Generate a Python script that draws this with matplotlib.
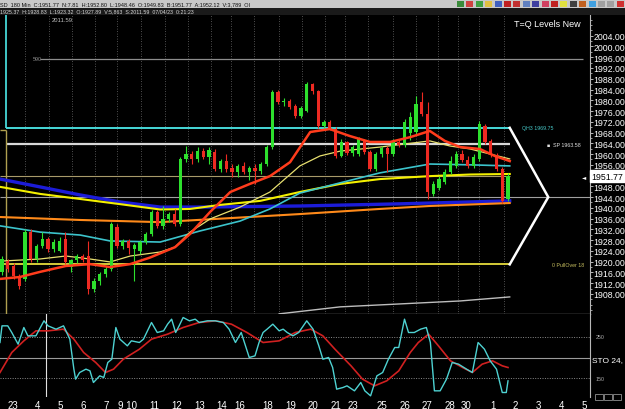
import matplotlib
matplotlib.use("Agg")
import matplotlib.pyplot as plt
from matplotlib.patches import Rectangle
import numpy as np

plt.rcParams['font.family'] = ['Liberation Sans', 'DejaVu Sans']

# ---------------- data ----------------
opens = [1916.2, 1920.2, 1918.4, 1914.7, 1913.6, 1931.0, 1921.0, 1925.8, 1928.4, 1924.7,
         1924.0, 1928.4, 1918.0, 1920.5, 1922.1, 1922.0, 1909.8, 1912.8, 1915.4, 1917.3,
         1933.0, 1926.0, 1927.7, 1924.7, 1924.0, 1927.3, 1930.3, 1938.5, 1933.3, 1935.9,
         1937.7, 1934.0, 1958.2, 1960.0, 1958.2, 1961.1, 1958.9, 1960.8, 1954.4, 1957.4,
         1955.0, 1953.3, 1955.6, 1953.3, 1954.8, 1953.7, 1956.3, 1962.6, 1983.1, 1979.3,
         1979.8, 1977.9, 1974.1, 1976.0, 1986.0, 1983.5, 1970.4, 1971.9, 1969.3, 1959.3,
         1964.5, 1960.4, 1960.0, 1965.0, 1960.8, 1954.4, 1960.0, 1962.2, 1960.0, 1964.5,
         1963.4, 1968.0, 1968.2, 1979.3, 1975.0, 1945.2, 1947.4, 1949.6, 1953.3, 1955.6,
         1960.0, 1957.8, 1955.6, 1958.2, 1970.4, 1964.9, 1959.6, 1954.4, 1943.3]
highs = [1922.0, 1921.0, 1919.5, 1915.5, 1932.0, 1932.0, 1926.6, 1931.0, 1929.0, 1928.4,
         1929.0, 1931.0, 1921.0, 1923.0, 1923.0, 1927.7, 1914.0, 1916.2, 1918.4, 1934.7,
         1934.0, 1928.4, 1928.4, 1927.0, 1928.0, 1931.0, 1939.2, 1939.2, 1940.7, 1938.5,
         1939.6, 1959.0, 1963.0, 1961.1, 1962.6, 1962.2, 1962.6, 1961.9, 1958.2, 1960.0,
         1956.3, 1956.3, 1957.0, 1955.6, 1956.3, 1957.0, 1963.4, 1984.0, 1983.8, 1981.0,
         1980.5, 1978.6, 1978.0, 1986.8, 1986.4, 1984.0, 1972.7, 1972.7, 1970.0, 1965.6,
         1965.0, 1963.4, 1966.3, 1965.6, 1961.5, 1960.8, 1963.0, 1963.0, 1965.6, 1965.6,
         1973.0, 1975.6, 1981.6, 1983.1, 1979.3, 1950.0, 1952.0, 1954.4, 1959.3, 1961.1,
         1961.5, 1959.3, 1960.0, 1972.3, 1971.2, 1965.6, 1960.4, 1955.2, 1952.8]
lows = [1915.0, 1916.0, 1913.6, 1909.8, 1912.8, 1920.0, 1920.0, 1925.0, 1923.6, 1923.6,
        1923.6, 1919.1, 1916.2, 1919.5, 1919.9, 1908.0, 1908.7, 1911.5, 1914.3, 1916.5,
        1925.0, 1924.7, 1922.9, 1912.8, 1923.0, 1926.6, 1929.5, 1932.5, 1932.1, 1934.7,
        1933.3, 1933.3, 1957.0, 1956.3, 1957.0, 1958.0, 1956.3, 1953.7, 1953.3, 1953.3,
        1951.5, 1951.5, 1952.6, 1950.4, 1948.9, 1952.6, 1955.6, 1962.0, 1978.6, 1977.9,
        1976.7, 1973.4, 1973.4, 1975.6, 1982.3, 1969.7, 1969.7, 1969.0, 1958.5, 1958.9,
        1959.6, 1959.3, 1959.3, 1960.0, 1953.7, 1953.7, 1958.9, 1953.3, 1959.3, 1962.6,
        1962.6, 1965.2, 1967.5, 1974.1, 1943.3, 1944.4, 1946.7, 1948.9, 1952.6, 1954.8,
        1957.0, 1954.8, 1955.0, 1957.4, 1963.7, 1958.9, 1953.7, 1941.8, 1942.6]
closes = [1921.0, 1917.3, 1914.7, 1911.0, 1931.0, 1921.0, 1925.8, 1928.4, 1924.7, 1927.3,
          1927.7, 1919.9, 1920.5, 1922.1, 1920.5, 1909.8, 1912.8, 1915.4, 1917.3, 1934.0,
          1926.0, 1927.7, 1925.0, 1926.2, 1927.3, 1930.3, 1938.5, 1933.3, 1935.9, 1937.7,
          1934.0, 1958.2, 1960.0, 1958.2, 1961.1, 1958.9, 1961.5, 1954.4, 1957.4, 1954.4,
          1953.3, 1955.6, 1953.3, 1954.8, 1953.7, 1956.3, 1962.6, 1983.1, 1979.3, 1979.8,
          1977.5, 1974.1, 1977.1, 1986.0, 1983.5, 1970.4, 1971.9, 1969.7, 1959.3, 1964.5,
          1960.4, 1962.6, 1965.6, 1960.8, 1954.4, 1960.0, 1962.2, 1960.0, 1964.5, 1963.4,
          1971.9, 1973.8, 1978.6, 1974.9, 1945.9, 1948.9, 1950.7, 1953.3, 1957.4, 1960.0,
          1957.8, 1955.6, 1958.9, 1971.2, 1964.5, 1959.6, 1954.4, 1942.6, 1951.77]

# moving averages: (bar index, value)
ma_blue_x = [-0.3, 6.6, 13.6, 20.5, 27.5, 34.4, 51.8, 69.2, 88.3]
ma_blue_y = [1950.7, 1947.8, 1944.8, 1942.2, 1940.3, 1940.3, 1940.7, 1941.5, 1942.6]
ma_yellow_x = [-0.3, 6.6, 13.6, 20.5, 27.5, 32.7, 37.9, 44.9, 51.8, 58.8, 65.7, 74.4, 81.4, 88.3]
ma_yellow_y = [1947.8, 1945.2, 1943.3, 1941.4, 1939.4, 1939.6, 1941.1, 1942.6, 1945.9, 1948.9,
               1950.7, 1951.8, 1952.4, 1952.6]
ma_orange_x = [-0.3, 13.6, 27.5, 39.7, 51.8, 65.7, 74.4, 88.3]
ma_orange_y = [1936.6, 1935.5, 1934.7, 1936.2, 1937.7, 1939.6, 1940.7, 1941.8]
ma_cyan_x = [-0.3, 6.6, 13.6, 18.8, 27.5, 34.4, 41.4, 46.6, 51.8, 58.8, 65.7, 74.4, 81.4, 88.3]
ma_cyan_y = [1933.3, 1931.0, 1929.9, 1927.7, 1927.3, 1931.4, 1935.1, 1939.6, 1945.5, 1949.3,
             1953.0, 1956.3, 1956.0, 1955.6]
ma_pale_x = [-0.3, 6.6, 11.1, 15.3, 18.8, 22.3, 27.5, 30.1, 32.7, 36.2, 41.4, 46.6, 51.8,
             55.3, 58.8, 65.7, 74.4, 77.9, 81.4, 84.9, 88.3]
ma_pale_y = [1920.2, 1921.0, 1922.1, 1921.0, 1919.9, 1922.1, 1923.6, 1925.4, 1931.0, 1935.9,
             1940.3, 1945.9, 1955.6, 1959.3, 1961.1, 1962.6, 1964.9, 1963.0, 1961.9, 1960.0,
             1958.2]
ma_red_x = [-0.3, 3.1, 6.6, 11.1, 15.3, 18.8, 22.3, 25.7, 30.1, 32.7, 36.2, 39.7, 43.1, 46.6,
            50.1, 53.6, 57.0, 60.5, 64.0, 67.5, 71.0, 74.4, 77.0, 79.7, 83.1, 85.7, 88.3]
ma_red_y = [1913.6, 1914.3, 1916.2, 1918.4, 1919.1, 1918.0, 1919.1, 1921.5, 1925.4, 1930.3,
            1938.5, 1945.9, 1948.9, 1951.8, 1957.0, 1968.2, 1969.3, 1966.7, 1964.5, 1964.5,
            1966.3, 1968.6, 1964.9, 1962.6, 1961.9, 1959.3, 1957.4]
ma_long_x = [48.2, 58.8, 79.7, 88.3]
ma_long_y = [1900.6, 1903.2, 1905.4, 1906.9]

# levels
level_qh3 = 1969.75
level_sp = 1963.58
level_pull = 1919.0
level_top = 1995.5
level_mid = 1944.0
last_price = 1951.77

# stochastic
sto_k_x = [-0.35, 0.0, 1.0, 1.7, 2.8, 3.8, 4.5, 5.9, 7.3, 8.0, 9.4, 10.7, 11.8, 12.5, 12.8, 13.5,
           14.6, 15.3, 15.9, 17.0, 17.7, 18.4, 19.1, 19.8, 20.5, 21.8, 22.5, 23.9, 24.6, 26.0,
           27.0, 28.1, 28.8, 29.5, 30.2, 30.8, 31.5, 32.6, 33.6, 34.3, 35.7, 37.1, 38.5, 39.5,
           40.6, 41.6, 43.0, 44.0, 44.7, 45.4, 46.1, 47.1, 48.2, 48.9, 49.6, 50.6, 51.6, 53.0,
           54.1, 55.1, 55.8, 56.8, 57.5, 58.2, 59.3, 60.0, 61.3, 62.4, 63.1, 64.1, 65.2, 66.2,
           67.2, 68.3, 69.0, 70.0, 70.7, 71.7, 72.8, 73.8, 74.5, 75.2, 76.2, 77.3, 78.3, 79.4,
           80.8, 81.8, 82.8, 83.9, 84.9, 86.0, 87.0, 87.7, 88.0]
sto_k_y = [68, 88, 88, 80, 66, 86, 76, 76, 94, 88, 84, 88, 72, 36, 24, 32,
           36, 34, 20, 28, 26, 44, 48, 86, 72, 64, 70, 68, 72, 92,
           80, 82, 90, 96, 80, 88, 98, 94, 96, 92, 94, 94, 92, 84,
           68, 80, 50, 52, 68, 80, 84, 90, 82, 84, 80, 76, 80, 94,
           84, 64, 48, 50, 38, 12, 14, 16, 10, 20, 10, 4, 28, 32,
           48, 62, 62, 96, 80, 80, 84, 86, 68, 10, 10, 24, 44, 42,
           36, 32, 68, 60, 46, 36, 8, 8, 22]
sto_d_x = [-0.35, 1.7, 3.8, 5.9, 8.0, 10.7, 12.5, 14.2, 16.3, 18.0, 19.4, 21.1, 23.9, 26.0,
           28.8, 31.5, 34.3, 37.1, 39.9, 42.6, 45.4, 48.2, 51.0, 53.7, 55.8, 57.9, 60.7, 62.7,
           64.8, 66.9, 69.0, 71.0, 72.4, 74.2, 75.9, 78.0, 80.1, 81.8, 83.5, 85.3, 87.0, 88.0]
sto_d_y = [32, 56, 70, 82, 82, 84, 72, 56, 44, 32, 36, 48, 60, 72,
           78, 86, 92, 94, 90, 80, 68, 70, 80, 84, 76, 60, 40, 24,
           16, 22, 34, 56, 68, 78, 64, 46, 38, 32, 42, 46, 40, 38]

date_labels = ["23", "4", "5", "6", "7", "9 10", "11", "12", "13", "14", "16", "18", "19",
               "20", "21", "23", "25", "26", "27", "28", "30", "1", "2", "3", "4", "5"]
date_bar_index = [1.86, 6.26, 10.19, 14.09, 18.09, 21.83, 26.43, 30.43, 34.43, 38.26, 41.39,
                  46.26, 50.17, 54.09, 58.09, 61.04, 66.09, 70.0, 73.91, 77.91, 80.7, 85.32,
                  89.34, 93.3, 97.32, 101.2]

price_ticks = [v for v in range(1908, 2005, 4) if abs(v - last_price) > 2]

# ---------------- figure ----------------
W, H = 625, 410
fig = plt.figure(figsize=(W / 100, H / 100), dpi=100, facecolor='black')

XL = (-0.348, 102.26)
ax = fig.add_axes([0, 1 - 315 / H, 590 / W, 306 / H], facecolor='black')
axs = fig.add_axes([0, 1 - 398 / H, 590 / W, 83 / H], facecolor='black')

GREEN = '#2de02d'
RED = '#ee2a22'

ax.set_xlim(*XL)
ax.set_ylim(1900.55, 2014.3)

# vertical dotted day separators
mids = [(a + b) / 2 for a, b in zip(date_bar_index[:-1], date_bar_index[1:])]
for m in mids:
    if m < 89:
        ax.axvline(m, color='#6a6a6a', lw=0.6, ls=(0, (1, 2)), zorder=1)

# horizontal levels
ax.hlines(level_top, 6.6, 101.0, color='#8c8c8c', lw=0.9, zorder=2)
ax.hlines(level_mid, XL[0], XL[1], color='#a0a0a0', lw=0.8, zorder=2)
ax.hlines(last_price, XL[0], 88.3, color='#a89a6a', lw=0.8, zorder=2)
ax.hlines(level_qh3, 0.7, 88.3, color='#46d8d8', lw=1.4, zorder=3)
ax.hlines(level_sp, 0.7, 88.3, color='#d8d8d8', lw=1.6, zorder=3)
ax.hlines(level_pull, XL[0], 88.3, color='#e6dc3c', lw=1.3, zorder=3)
ax.vlines(0.7, level_qh3, 2014.3, color='#46d8d8', lw=1.3, zorder=3)
ax.vlines(0.7, 1900.55, level_qh3 - 0.8, color='#b0a050', lw=1.0, zorder=3)
ax.hlines(level_qh3 - 0.8, XL[0], 0.7, color='#b0a050', lw=1.0, zorder=3)

# moving averages
ax.plot(ma_blue_x, ma_blue_y, color='#1c1cd8', lw=2.4, zorder=4)
ax.plot(ma_orange_x, ma_orange_y, color='#ff8a1a', lw=1.5, zorder=4)
ax.plot(ma_yellow_x, ma_yellow_y, color='#f4f000', lw=1.5, zorder=4)
ax.plot(ma_cyan_x, ma_cyan_y, color='#3cc4cc', lw=1.2, zorder=4)
ax.plot(ma_pale_x, ma_pale_y, color='#e8e070', lw=0.9, zorder=4)
ax.plot(ma_red_x, ma_red_y, color='#ff3c1c', lw=1.8, zorder=6)
ax.plot(ma_long_x, ma_long_y, color='#bdbdbd', lw=1.0, zorder=4)

# candles
idx = np.arange(len(closes))
o = np.array(opens); c = np.array(closes); h = np.array(highs); l = np.array(lows)
cols = [GREEN if cc >= oo else RED for oo, cc in zip(o, c)]
ax.vlines(idx, l, h, colors=cols, lw=0.8, zorder=5)
ax.bar(idx, np.maximum(np.abs(c - o), 0.3), bottom=np.minimum(o, c), width=0.55,
       color=cols, zorder=5, linewidth=0)

# arrow shape
ax.plot([88.3, 95.0, 88.3], [level_qh3, level_mid, level_pull], color='white', lw=1.8,
        zorder=6, solid_joinstyle='miter')

# labels
ax.text(90.4, level_qh3, "QH3 1969.75", color='#46c8c8', fontsize=3.8, va='center', ha='left')
ax.text(94.8, level_sp, "■  SP 1963.58", color='#e0e0e0', fontsize=3.8, va='center', ha='left')
ax.text(95.6, level_pull, "0 PullOver 18", color='#c8c060', fontsize=3.8, va='center', ha='left')
ax.text(5.4, level_top, "590", color='#909090', fontsize=3.8, va='center', ha='left')
ax.text(8.7, 2010.0, "2011.59", color='#c0c0c0', fontsize=4.2, va='center', ha='left')
ax.text(89.0, 2008.4, "T=Q Levels New", color='white', fontsize=6.5, va='center', ha='left')

# price axis
for s in ['top', 'left']:
    ax.spines[s].set_visible(False)
ax.spines['bottom'].set_color('#d0d0d0')
ax.spines['bottom'].set_linewidth(0.9)
ax.spines['right'].set_color('#b8b8b8')
ax.spines['right'].set_linewidth(0.8)
ax.set_xticks([])
ax.yaxis.tick_right()
ax.set_yticks(price_ticks)
ax.set_yticklabels([f"{v:.2f}" for v in price_ticks])
ax.set_yticks(np.arange(1902, 2014, 2), minor=True)
ax.tick_params(axis='y', which='major', colors='#b8b8b8', labelcolor='white', labelsize=6.3,
               length=2.0, width=0.7, pad=0.5)
ax.tick_params(axis='y', which='minor', colors='#b8b8b8', length=1.2, width=0.6)

ax.text(1.003, last_price, "1951.77", transform=ax.get_yaxis_transform(), fontsize=6.3,
        color='black', va='center', ha='left',
        bbox=dict(boxstyle='square,pad=0.15', fc='white', ec='white'), zorder=10, clip_on=False)
ax.text(0.993, last_price, "◄", transform=ax.get_yaxis_transform(), fontsize=4,
        color='white', va='center', ha='right', family='DejaVu Sans', clip_on=False)

# ---------------- stochastic ----------------
axs.set_xlim(*XL)
axs.set_ylim(2.6, 102.2)
axs.hlines([75, 25], XL[0], XL[1], color='#8a8a8a', lw=0.7, ls=(0, (1, 1.5)))
axs.axhline(50, color='#9a9a9a', lw=0.8)
axs.axvline(7.65, color='#e0e0e0', lw=0.8)
axs.plot(sto_d_x, sto_d_y, color='#d02020', lw=1.2, zorder=3)
axs.plot(sto_k_x, sto_k_y, color='#4ed2d2', lw=1.0, zorder=4)
for s in ['top', 'left', 'bottom']:
    axs.spines[s].set_visible(False)
axs.spines['right'].set_color('#b8b8b8')
axs.spines['right'].set_linewidth(0.8)
axs.set_yticks([])
axs.set_xticks(date_bar_index)
axs.set_xticklabels(date_labels)
axs.tick_params(axis='x', length=0, labelsize=7, labelcolor='white', pad=2)
axs.text(1.01, 75, "250", transform=axs.get_yaxis_transform(), fontsize=3.8, color='#b0b0b0',
         va='center', ha='left', clip_on=False)
axs.text(1.01, 25, "150", transform=axs.get_yaxis_transform(), fontsize=3.8, color='#b0b0b0',
         va='center', ha='left', clip_on=False)
axs.text(1.003, 47, "STO 24,", transform=axs.get_yaxis_transform(), fontsize=6.0,
         color='white', va='center', ha='left', clip_on=False)
for bx in (595, 604, 613):
    fig.add_artist(Rectangle((bx / W, 1 - 401 / H), 8 / W, 6 / H, transform=fig.transFigure,
                             fc='none', ec='#909090', lw=0.6))

# ---------------- top bars ----------------
fig.add_artist(Rectangle((0, 1 - 8.5 / H), 1, 8.5 / H, transform=fig.transFigure,
                         fc='#c8c8c8', ec='none', zorder=20))
fig.add_artist(Rectangle((0, 1 - 15.5 / H), 1, 7 / H, transform=fig.transFigure,
                         fc='#1a1a1a', ec='none', zorder=20))
fig.text(0.0, 1 - 4.3 / H,
         "SD  180 Min  C:1951.77  N:7.81  H:1952.80  L:1948.46  O:1949.83  B:1951.77  A:1952.12  V:3,789  OI",
         fontsize=4.0, color='#101010', va='center', ha='left', zorder=21)
fig.text(0.0, 1 - 12 / H,
         "1925.37  H:1928.83  L:1923.32  O:1927.89  V:5,863  S:2011.59  07/04/23  0:21:23",
         fontsize=3.8, color='#d8d8d8', va='center', ha='left', zorder=21)
icon_colors = ['#3a8a3a', '#d04040', '#40a040', '#e0c040', '#4060c0', '#c02020', '#c03030',
               '#6080c0', '#4040a0', '#d04060', '#c02020', '#e0e040', '#404040', '#c06020',
               '#40a0e0', '#a0a0a0', '#a0a0a0', '#d03030']
for k, colr in enumerate(icon_colors):
    fig.add_artist(Rectangle(((457 + k * 9.4) / W, 1 - 7.5 / H), 7 / W, 6 / H,
                             transform=fig.transFigure, fc=colr, ec='none', zorder=21))

fig.savefig("out.png", dpi=100, facecolor='black')
